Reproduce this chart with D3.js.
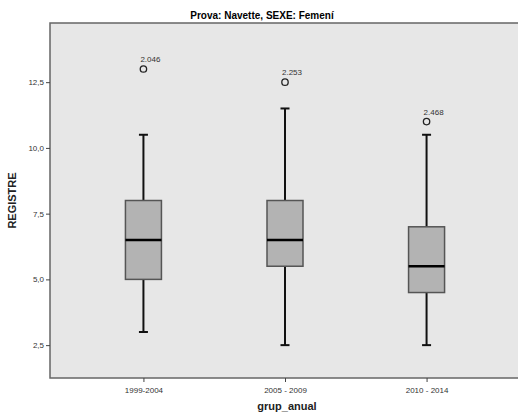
<!DOCTYPE html>
<html>
<head>
<meta charset="utf-8">
<script src="https://cdn.jsdelivr.net/npm/d3@7"></script>
<style>
  body { margin: 0; background: #fff; }
  svg { display: block; font-family: Arial, "Liberation Sans", sans-serif; }
</style>
</head>
<body>
<svg id="chart" width="518" height="414"></svg>
<script>
// ---- Data ----
const groups = ["1999-2004", "2005 - 2009", "2010 - 2014"];
const whiskerLow = [3, 2.5, 2.5];
const q1 = [5, 5.5, 4.5];
const median = [6.5, 6.5, 5.5];
const q3 = [8, 8, 7];
const whiskerHigh = [10.5, 11.5, 10.5];
const outlierValues = [13, 12.5, 11];
const outlierLabels = ["2.046", "2.253", "2.468"];
const yTicks = [2.5, 5, 7.5, 10, 12.5];

const boxes = groups.map((g, i) => ({
    group: g, lo: whiskerLow[i], q1: q1[i], med: median[i], q3: q3[i], hi: whiskerHigh[i],
    out: outlierValues[i], label: outlierLabels[i]
}));

// ---- Layout ----
const svg = d3.select("#chart");
const plotLeft = 50, plotRight = 520, plotTop = 23, plotBottom = 378;

const xScale = d3.scalePoint().domain(groups).range([plotLeft, plotRight]).padding(0.66);
const yScale = d3.scaleLinear().domain([1.25, 14.75]).range([plotBottom, plotTop]);

// ---- Plot background ----
svg.append("rect")
    .attr("x", plotLeft).attr("y", plotTop)
    .attr("width", plotRight - plotLeft).attr("height", plotBottom - plotTop)
    .attr("fill", "#e7e7e7")
    .attr("stroke", "#666").attr("stroke-width", 1.5);

// ---- Axes ----
const fmt = d => d3.format(".1f")(d).replace(".", ",");
const yAxis = svg.append("g")
    .attr("transform", `translate(${plotLeft},0)`)
    .call(d3.axisLeft(yScale).tickValues(yTicks).tickFormat(fmt).tickSize(4).tickPadding(2));
yAxis.select(".domain").remove();
yAxis.selectAll("line").attr("stroke", "#444");
yAxis.selectAll("text").attr("font-size", 8).attr("fill", "#333");

const xAxis = svg.append("g")
    .attr("transform", `translate(0,${plotBottom})`)
    .call(d3.axisBottom(xScale).tickSize(4).tickPadding(5));
xAxis.select(".domain").remove();
xAxis.selectAll("line").attr("stroke", "#444");
xAxis.selectAll("text").attr("font-size", 8).attr("fill", "#333");

// ---- Boxes ----
const boxW = 36, capW = 9;
const g = svg.selectAll(".box")
    .data(boxes)
    .join("g")
    .attr("class", "box");

g.append("line")
    .attr("x1", d => xScale(d.group)).attr("x2", d => xScale(d.group))
    .attr("y1", d => yScale(d.lo)).attr("y2", d => yScale(d.hi))
    .attr("stroke", "#111").attr("stroke-width", 2);

g.append("line")
    .attr("x1", d => xScale(d.group) - capW / 2).attr("x2", d => xScale(d.group) + capW / 2)
    .attr("y1", d => yScale(d.hi)).attr("y2", d => yScale(d.hi))
    .attr("stroke", "#111").attr("stroke-width", 2);

g.append("line")
    .attr("x1", d => xScale(d.group) - capW / 2).attr("x2", d => xScale(d.group) + capW / 2)
    .attr("y1", d => yScale(d.lo)).attr("y2", d => yScale(d.lo))
    .attr("stroke", "#111").attr("stroke-width", 2);

g.append("rect")
    .attr("x", d => xScale(d.group) - boxW / 2)
    .attr("y", d => yScale(d.q3))
    .attr("width", boxW)
    .attr("height", d => yScale(d.q1) - yScale(d.q3))
    .attr("fill", "#b3b3b3")
    .attr("stroke", "#555").attr("stroke-width", 1.5);

g.append("line")
    .attr("x1", d => xScale(d.group) - boxW / 2).attr("x2", d => xScale(d.group) + boxW / 2)
    .attr("y1", d => yScale(d.med)).attr("y2", d => yScale(d.med))
    .attr("stroke", "#000").attr("stroke-width", 2.5);

// ---- Outliers ----
g.append("circle")
    .attr("cx", d => xScale(d.group))
    .attr("cy", d => yScale(d.out))
    .attr("r", 3.2)
    .attr("fill", "none")
    .attr("stroke", "#222").attr("stroke-width", 1.3);

g.append("text")
    .attr("x", d => xScale(d.group) - 3)
    .attr("y", d => yScale(d.out) - 7)
    .attr("font-size", 8).attr("fill", "#333")
    .text(d => d.label);

// ---- Titles ----
svg.append("text")
    .attr("x", 262).attr("y", 19)
    .attr("text-anchor", "middle")
    .attr("font-size", 10).attr("font-weight", "bold")
    .text("Prova: Navette, SEXE: Femení");

svg.append("text")
    .attr("transform", `translate(16,${(plotTop + plotBottom) / 2}) rotate(-90)`)
    .attr("text-anchor", "middle")
    .attr("font-size", 11).attr("font-weight", "bold")
    .attr("fill", "#222")
    .text("REGISTRE");

svg.append("text")
    .attr("x", 287).attr("y", 410)
    .attr("text-anchor", "middle")
    .attr("font-size", 11).attr("font-weight", "bold")
    .attr("fill", "#222")
    .text("grup_anual");
</script>
</body>
</html>
